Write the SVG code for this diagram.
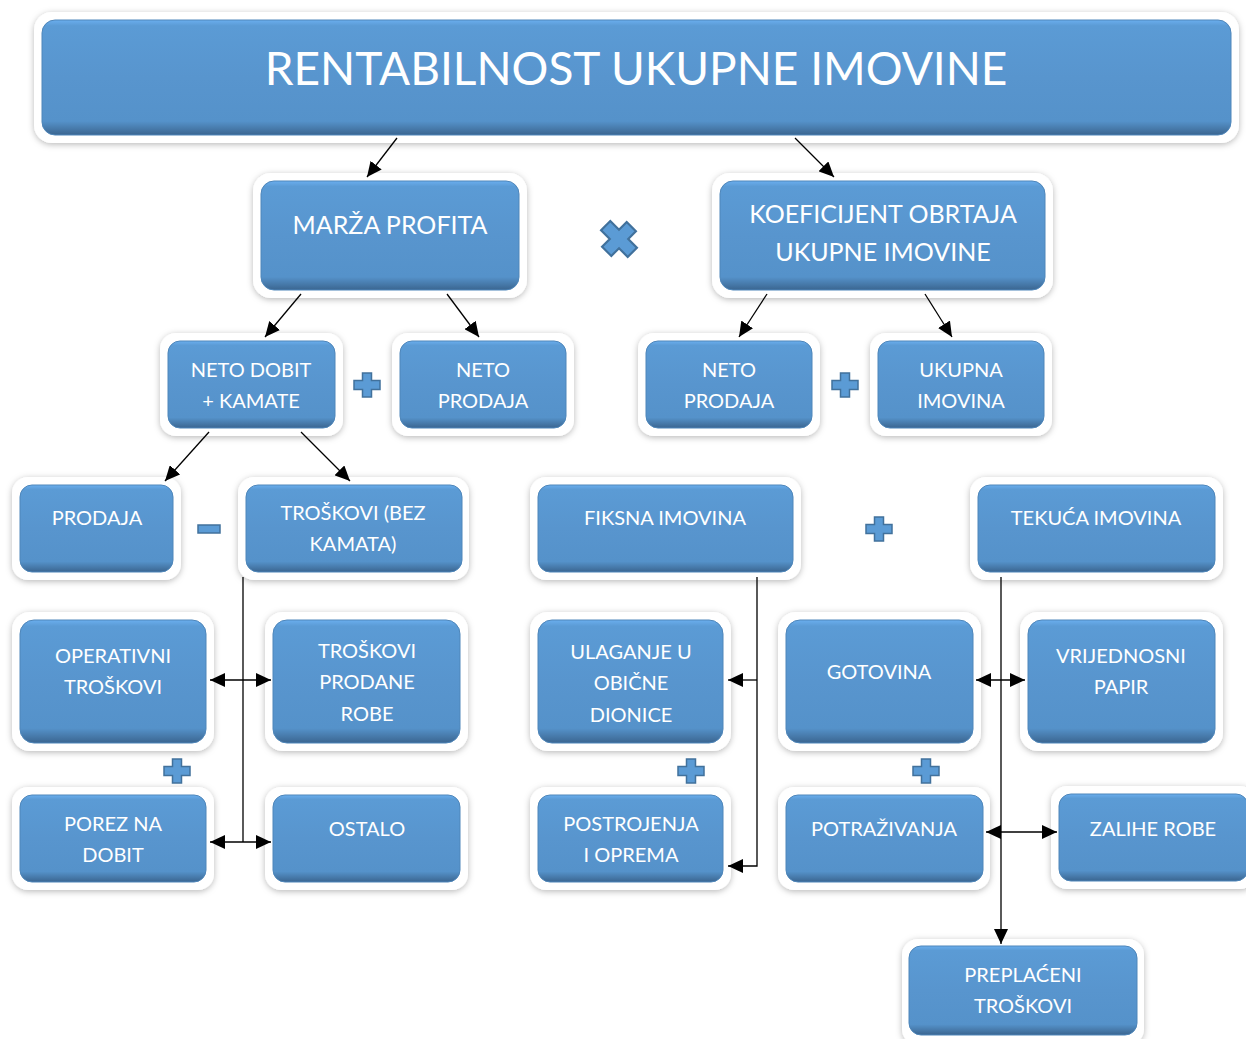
<svg xmlns="http://www.w3.org/2000/svg" width="1246" height="1039" viewBox="0 0 1246 1039">
<defs>
<filter id="sh" x="-10%" y="-20%" width="120%" height="140%">
<feDropShadow dx="0" dy="1.5" stdDeviation="3" flood-color="#000" flood-opacity="0.28"/>
</filter>
<linearGradient id="bg" x1="0" y1="0" x2="0" y2="1">
<stop offset="0" stop-color="#6AAEEE"/>
<stop offset="0.05" stop-color="#5B9BD5"/>
<stop offset="0.5" stop-color="#5895CE"/>
<stop offset="0.88" stop-color="#5592CA"/>
<stop offset="0.95" stop-color="#4678A8"/>
<stop offset="1" stop-color="#3A6590"/>
</linearGradient>
<marker id="ah" viewBox="0 0 15 14" markerUnits="userSpaceOnUse" markerWidth="15" markerHeight="14" refX="15" refY="7" orient="auto-start-reverse">
<path d="M0,0 L15,7 L0,14 z" fill="#000"/>
</marker>
<path id="plus" d="M-4.5,-12 H4.5 V-4.5 H13 V4.5 H4.5 V12 H-4.5 V4.5 H-13 V-4.5 H-4.5 Z"/>
</defs>
<style>
.frame{fill:#fff;filter:url(#sh)}
.body{fill:url(#bg);stroke:#4E86BA;stroke-width:1}
.t{fill:#fff;font-family:Lato,"Open Sans",sans-serif;font-size:20px;text-anchor:middle}
.t2{font-size:25px}
.t1{font-size:46px}
.c{fill:none;stroke:#000;stroke-width:1.3}
.op{fill:#5B9BD5;stroke:#41719C;stroke-width:1.5}
</style>
<rect width="1246" height="1039" fill="#fff"/>

<g id="n-title">
<rect class="frame" x="34" y="12" width="1205" height="131" rx="18"/>
<rect class="body" x="42" y="20" width="1189" height="115" rx="13"/>
<text class="t t1" x="636" y="85">RENTABILNOST UKUPNE IMOVINE</text>
</g>
<g id="n-marza">
<rect class="frame" x="253" y="173" width="274" height="125" rx="18"/>
<rect class="body" x="261" y="181" width="258" height="109" rx="13"/>
<text class="t t2" x="390" y="234">MARŽA PROFITA</text>
</g>
<g id="n-koef">
<rect class="frame" x="712" y="173" width="341" height="125" rx="18"/>
<rect class="body" x="720" y="181" width="325" height="109" rx="13"/>
<text class="t t2" x="883" y="223">KOEFICIJENT OBRTAJA</text>
<text class="t t2" x="883" y="261">UKUPNE IMOVINE</text>
</g>
<g id="n-netodobit">
<rect class="frame" x="160" y="333" width="183" height="103" rx="16"/>
<rect class="body" x="168" y="341" width="167" height="87" rx="12"/>
<text class="t" x="251" y="377">NETO DOBIT</text>
<text class="t" x="251" y="408">+ KAMATE</text>
</g>
<g id="n-netoprodaja1">
<rect class="frame" x="392" y="333" width="182" height="103" rx="16"/>
<rect class="body" x="400" y="341" width="166" height="87" rx="12"/>
<text class="t" x="483" y="377">NETO</text>
<text class="t" x="483" y="408">PRODAJA</text>
</g>
<g id="n-netoprodaja2">
<rect class="frame" x="638" y="333" width="182" height="103" rx="16"/>
<rect class="body" x="646" y="341" width="166" height="87" rx="12"/>
<text class="t" x="729" y="377">NETO</text>
<text class="t" x="729" y="408">PRODAJA</text>
</g>
<g id="n-ukupna">
<rect class="frame" x="870" y="333" width="182" height="103" rx="16"/>
<rect class="body" x="878" y="341" width="166" height="87" rx="12"/>
<text class="t" x="961" y="377">UKUPNA</text>
<text class="t" x="961" y="408">IMOVINA</text>
</g>
<g id="n-prodaja">
<rect class="frame" x="12" y="477" width="169" height="103" rx="16"/>
<rect class="body" x="20" y="485" width="153" height="87" rx="12"/>
<text class="t" x="97" y="525">PRODAJA</text>
</g>
<g id="n-troskovi">
<rect class="frame" x="238" y="477" width="231" height="103" rx="16"/>
<rect class="body" x="246" y="485" width="216" height="87" rx="12"/>
<text class="t" x="353" y="520">TROŠKOVI (BEZ</text>
<text class="t" x="353" y="551">KAMATA)</text>
</g>
<g id="n-fiksna">
<rect class="frame" x="530" y="477" width="271" height="103" rx="16"/>
<rect class="body" x="538" y="485" width="255" height="87" rx="12"/>
<text class="t" x="665" y="525">FIKSNA IMOVINA</text>
</g>
<g id="n-tekuca">
<rect class="frame" x="970" y="477" width="253" height="103" rx="16"/>
<rect class="body" x="978" y="485" width="237" height="87" rx="12"/>
<text class="t" x="1096" y="525">TEKUĆA IMOVINA</text>
</g>
<g id="n-operativni">
<rect class="frame" x="12" y="612" width="202" height="139" rx="18"/>
<rect class="body" x="20" y="620" width="186" height="123" rx="14"/>
<text class="t" x="113" y="663">OPERATIVNI</text>
<text class="t" x="113" y="694">TROŠKOVI</text>
</g>
<g id="n-troskoviprodane">
<rect class="frame" x="265" y="612" width="203" height="139" rx="18"/>
<rect class="body" x="273" y="620" width="187" height="123" rx="14"/>
<text class="t" x="367" y="658">TROŠKOVI</text>
<text class="t" x="367" y="689">PRODANE</text>
<text class="t" x="367" y="721">ROBE</text>
</g>
<g id="n-ulaganje">
<rect class="frame" x="530" y="612" width="201" height="139" rx="18"/>
<rect class="body" x="538" y="620" width="185" height="123" rx="14"/>
<text class="t" x="631" y="659">ULAGANJE U</text>
<text class="t" x="631" y="690">OBIČNE</text>
<text class="t" x="631" y="722">DIONICE</text>
</g>
<g id="n-gotovina">
<rect class="frame" x="778" y="612" width="203" height="139" rx="18"/>
<rect class="body" x="786" y="620" width="187" height="123" rx="14"/>
<text class="t" x="879" y="679">GOTOVINA</text>
</g>
<g id="n-vrijednosni">
<rect class="frame" x="1020" y="612" width="203" height="139" rx="18"/>
<rect class="body" x="1028" y="620" width="187" height="123" rx="14"/>
<text class="t" x="1121" y="663">VRIJEDNOSNI</text>
<text class="t" x="1121" y="694">PAPIR</text>
</g>
<g id="n-porez">
<rect class="frame" x="12" y="787" width="202" height="103" rx="16"/>
<rect class="body" x="20" y="795" width="186" height="87" rx="12"/>
<text class="t" x="113" y="831">POREZ NA</text>
<text class="t" x="113" y="862">DOBIT</text>
</g>
<g id="n-ostalo">
<rect class="frame" x="265" y="787" width="203" height="103" rx="16"/>
<rect class="body" x="273" y="795" width="187" height="87" rx="12"/>
<text class="t" x="367" y="836">OSTALO</text>
</g>
<g id="n-postrojenja">
<rect class="frame" x="530" y="787" width="201" height="103" rx="16"/>
<rect class="body" x="538" y="795" width="185" height="87" rx="12"/>
<text class="t" x="631" y="831">POSTROJENJA</text>
<text class="t" x="631" y="862">I OPREMA</text>
</g>
<g id="n-potrazivanja">
<rect class="frame" x="778" y="787" width="212" height="103" rx="16"/>
<rect class="body" x="786" y="795" width="197" height="87" rx="12"/>
<text class="t" x="884" y="836">POTRAŽIVANJA</text>
</g>
<g id="n-zalihe">
<rect class="frame" x="1051" y="786" width="205" height="103" rx="16"/>
<rect class="body" x="1059" y="794" width="189" height="87" rx="12"/>
<text class="t" x="1153" y="836">ZALIHE ROBE</text>
</g>
<g id="n-preplaceni">
<rect class="frame" x="902" y="939" width="242" height="106" rx="16"/>
<rect class="body" x="909" y="946" width="228" height="89" rx="12"/>
<text class="t" x="1023" y="982">PREPLAĆENI</text>
<text class="t" x="1023" y="1013">TROŠKOVI</text>
</g>

<g id="operators">
<use href="#plus" class="op" transform="translate(619,239) rotate(45) scale(1.45)"/>
<use href="#plus" class="op" transform="translate(367,385)"/>
<use href="#plus" class="op" transform="translate(845,385)"/>
<use href="#plus" class="op" transform="translate(879,529)"/>
<use href="#plus" class="op" transform="translate(177,771)"/>
<use href="#plus" class="op" transform="translate(691,771)"/>
<use href="#plus" class="op" transform="translate(926,771)"/>
<rect class="op" x="198" y="525" width="22" height="8"/>
</g>

<g id="connectors">
<line class="c" x1="397" y1="138" x2="367" y2="177" marker-end="url(#ah)"/>
<line class="c" x1="795" y1="138" x2="834" y2="177" marker-end="url(#ah)"/>
<line class="c" x1="301" y1="294" x2="265" y2="337" marker-end="url(#ah)"/>
<line class="c" x1="447" y1="294" x2="479" y2="337" marker-end="url(#ah)"/>
<line class="c" x1="767" y1="294" x2="739" y2="337" marker-end="url(#ah)"/>
<line class="c" x1="925" y1="294" x2="952" y2="337" marker-end="url(#ah)"/>
<line class="c" x1="209" y1="432" x2="165" y2="481" marker-end="url(#ah)"/>
<line class="c" x1="301" y1="432" x2="350" y2="481" marker-end="url(#ah)"/>
<line class="c" x1="243" y1="577" x2="243" y2="842"/>
<line class="c" x1="210" y1="680" x2="271" y2="680" marker-start="url(#ah)" marker-end="url(#ah)"/>
<line class="c" x1="210" y1="842" x2="271" y2="842" marker-start="url(#ah)" marker-end="url(#ah)"/>
<path class="c" d="M757,577 V866 H728" marker-end="url(#ah)"/>
<line class="c" x1="757" y1="680" x2="728" y2="680" marker-end="url(#ah)"/>
<line class="c" x1="1001" y1="577" x2="1001" y2="944" marker-end="url(#ah)"/>
<line class="c" x1="976" y1="680" x2="1025" y2="680" marker-start="url(#ah)" marker-end="url(#ah)"/>
<line class="c" x1="986" y1="832" x2="1057" y2="832" marker-start="url(#ah)" marker-end="url(#ah)"/>
</g>
</svg>
